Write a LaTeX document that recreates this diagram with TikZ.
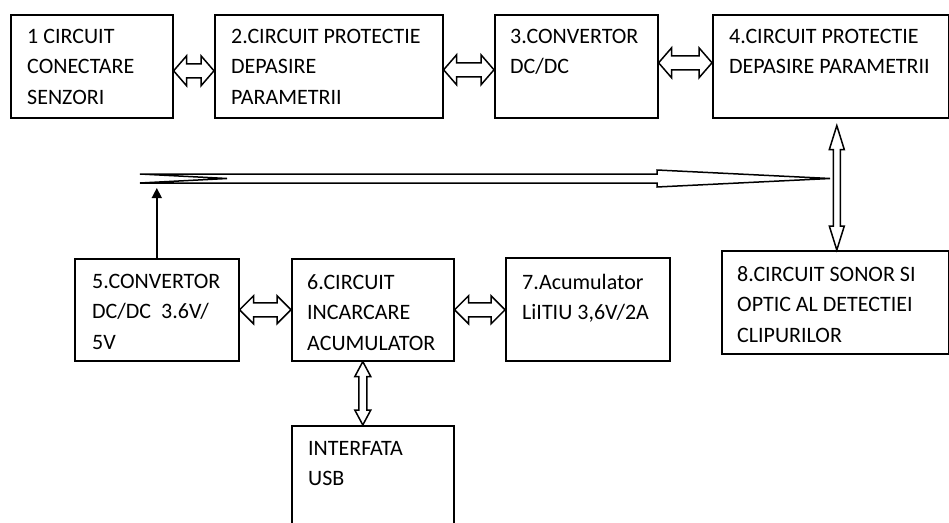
\documentclass[tikz,border=0pt]{standalone}
\usepackage{fontspec}
\setmainfont{Carlito}
\usepackage{tikz}
\usetikzlibrary{arrows.meta,calc,positioning}

\tikzset{
    box/.style={draw, line width=1.6pt, inner sep=0pt, anchor=north west},
    lbl/.style={anchor=north west, inner sep=0pt, align=left,
        font=\fontsize{22}{30.5}\selectfont},
    blk/.style={draw, line width=1.5pt, fill=white},
    % hollow double arrow, #1 head length, #2 head half width, #3 shaft half width
    hdbl/.style n args={3}{to path={let \p1=(\tikztostart), \p2=(\tikztotarget) in
        (\x1,\y1) -- (\x1+#1,\y1+#2) -- (\x1+#1,\y1+#3) -- (\x2-#1,\y1+#3) -- (\x2-#1,\y1+#2)
        -- (\x2,\y1) -- (\x2-#1,\y1-#2) -- (\x2-#1,\y1-#3) -- (\x1+#1,\y1-#3) -- (\x1+#1,\y1-#2) -- cycle}},
    vdbl/.style n args={3}{to path={let \p1=(\tikztostart), \p2=(\tikztotarget) in
        (\x1,\y1) -- (\x1+#2,\y1-#1) -- (\x1+#3,\y1-#1) -- (\x1+#3,\y2+#1) -- (\x1+#2,\y2+#1)
        -- (\x1,\y2) -- (\x1-#2,\y2+#1) -- (\x1-#3,\y2+#1) -- (\x1-#3,\y1-#1) -- (\x1-#2,\y1-#1) -- cycle}}
}

\begin{document}
\begin{tikzpicture}[x=1pt, y=-1pt]
    \useasboundingbox (0,0) rectangle (949,522);
    \clip (0,0) rectangle (949,522);

    % Top row
    \node[box, minimum width=162pt, minimum height=103pt] (b1) at (10,14) {};
    \node[box, minimum width=228pt, minimum height=103pt] (b2) at (214,14) {};
    \node[box, minimum width=163pt, minimum height=103pt] (b3) at (494,14) {};
    \node[box, minimum width=236pt, minimum height=103pt] (b4) at (712,14) {};

    \node[lbl] (t1) at (27,29) {1 CIRCUIT\\CONECTARE\\SENZORI};
    \node[lbl] (t2) at (231,29) {2.CIRCUIT PROTECTIE\\DEPASIRE\\PARAMETRII};
    \node[lbl] (t3) at (510,29) {3.CONVERTOR\\DC/DC};
    \node[lbl] (t4) at (729,29) {4.CIRCUIT PROTECTIE\\DEPASIRE PARAMETRII};

    % Bottom row
    \node[box, minimum width=164pt, minimum height=102pt] (b5) at (74,258) {};
    \node[box, minimum width=162pt, minimum height=102pt] (b6) at (291,258) {};
    \node[box, minimum width=164pt, minimum height=103pt] (b7) at (505,257) {};
    \node[box, minimum width=227pt, minimum height=103pt] (b8) at (721,250) {};
    \node[box, minimum width=162pt, minimum height=120pt] (b9) at (291,425) {};

    \node[lbl] (t5) at (92,274) {5.CONVERTOR\\DC/DC~~3.6V/\\5V};
    \node[lbl] (t6) at (307,274) {6.CIRCUIT\\INCARCARE\\ACUMULATOR};
    \node[lbl] (t7) at (522,274) {7.Acumulator\\LiITIU 3,6V/2A};
    \node[lbl] (t8) at (737,266) {8.CIRCUIT SONOR SI\\OPTIC AL DETECTIEI\\CLIPURILOR};
    \node[lbl] (t9) at (308,441) {INTERFATA\\USB};

    % Double arrows between blocks
    \draw[blk] ([yshift=-4.5pt]b1.east) to[hdbl={13pt}{15pt}{7pt}] ([yshift=-4.5pt]b2.west);
    \draw[blk] ([yshift=-3.5pt]b2.east) to[hdbl={13pt}{15pt}{7pt}] ([yshift=-3.5pt]b3.west);
    \draw[blk] ([yshift=3.5pt]b3.east) to[hdbl={13pt}{15pt}{7pt}] ([yshift=3.5pt]b4.west);
    \draw[blk] (b5.east) to[hdbl={14pt}{14pt}{7pt}] (b5.east -| b6.west);
    \draw[blk] (b6.east) to[hdbl={14pt}{14pt}{7pt}] (b6.east -| b7.west);
    \draw[blk] ([xshift=-10pt]b6.south) to[vdbl={15pt}{8pt}{4pt}] ([xshift=-10pt]b9.north);
    \draw[blk] ($(b8.north |- b4.south)+(1.5,7)$) to[vdbl={24pt}{7.5pt}{3.5pt}] ($(b8.north)+(1.5,0)$);

    % Bus arrow
    \coordinate (bus) at (140,178.5);
    \coordinate (bustip) at (830,178.5);
    \draw[blk] let \p1=(bus), \p2=(bustip) in
        (\x1,\y1+4.5pt) -- (\x2-173pt,\y1+4.5pt) -- (\x2-173pt,\y1+8.5pt) -- (\x2,\y2)
        -- (\x2-173pt,\y1-8.5pt) -- (\x2-173pt,\y1-4.5pt) -- (\x1,\y1-4.5pt) -- (\x1+87pt,\y1) -- cycle;

    % Converter output to bus
    \coordinate (upend) at (157,188);
    \draw[line width=1.5pt, -{Triangle[length=10pt,width=10pt]}] (b5.north) -- (b5.north |- upend);
\end{tikzpicture}
\end{document}
